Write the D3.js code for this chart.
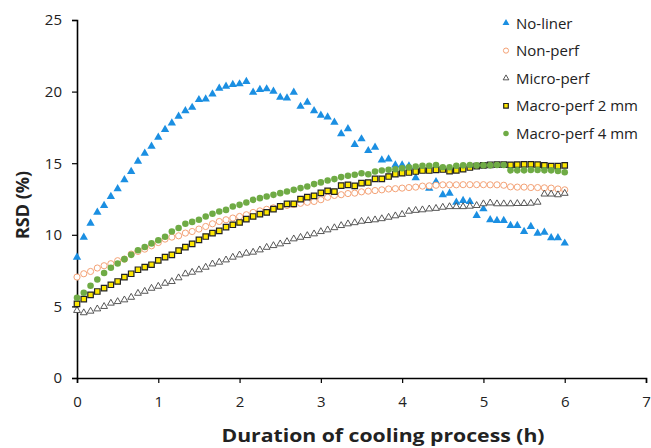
<!DOCTYPE html>
<html>
<head>
<meta charset="utf-8">
<script src="https://cdn.jsdelivr.net/npm/d3@7"></script>
<style>
  body { margin: 0; background: #fff; }
  svg text { font-family: "Open Sans", sans-serif; fill: #222; }
</style>
</head>
<body>
<div id="chart"></div>
<script>
// readings every 5 min (1/12 h) from 0 to 6 h
var hours = d3.range(0, 73).map(function(i) { return i / 12; });

var noLiner = [8.49, 9.88, 10.86, 11.63, 12.09, 12.72, 13.26, 13.89, 14.47, 15.19,
  15.74, 16.23, 16.86, 17.40, 17.86, 18.33, 18.72, 18.95, 19.49, 19.54,
  19.89, 20.28, 20.42, 20.54, 20.59, 20.75, 20.00, 20.19, 20.24, 20.07,
  19.65, 19.61, 20.00, 19.02, 19.30, 18.72, 18.40, 18.28, 17.91, 17.10,
  17.45, 16.35, 16.75, 15.93, 16.16, 15.28, 15.35, 14.93, 14.93, 14.85,
  14.03, 14.60, 13.30, 13.75, 12.85, 12.95, 12.32, 12.44, 12.37, 11.40,
  11.86, 11.10, 11.05, 11.05, 10.70, 10.70, 10.28, 10.63, 10.16, 10.23,
  9.84, 9.84, 9.47];

var nonPerf = [7.05, 7.28, 7.44, 7.68, 7.84, 7.98, 8.19, 8.30, 8.65, 8.84,
  9.00, 9.23, 9.46, 9.70, 9.84, 9.93, 10.12, 10.23, 10.40, 10.58,
  10.77, 10.93, 11.05, 11.17, 11.28, 11.40, 11.56, 11.67, 11.78, 11.88,
  11.98, 12.05, 12.12, 12.20, 12.27, 12.33, 12.45, 12.62, 12.75, 12.80,
  12.88, 12.91, 13.00, 13.05, 13.09, 13.14, 13.20, 13.22, 13.26, 13.30,
  13.33, 13.40, 13.42, 13.46, 13.49, 13.49, 13.49, 13.50, 13.50, 13.50,
  13.50, 13.49, 13.49, 13.46, 13.35, 13.33, 13.33, 13.30, 13.30, 13.28,
  13.26, 13.20, 13.14];

var microPerf = [4.77, 4.61, 4.72, 4.88, 5.05, 5.28, 5.39, 5.51, 5.69, 5.97,
  6.11, 6.32, 6.46, 6.67, 6.79, 7.05, 7.33, 7.44, 7.61, 7.79,
  8.02, 8.14, 8.30, 8.49, 8.65, 8.77, 8.84, 9.00, 9.18, 9.30,
  9.42, 9.58, 9.77, 9.88, 10.00, 10.12, 10.28, 10.40, 10.55, 10.70,
  10.82, 10.90, 11.00, 11.05, 11.10, 11.18, 11.28, 11.38, 11.48, 11.70,
  11.76, 11.80, 11.86, 11.90, 11.98, 12.02, 12.02, 12.02, 12.05, 12.10,
  12.22, 12.28, 12.22, 12.22, 12.22, 12.24, 12.24, 12.26, 12.33, 12.90,
  12.90, 12.85, 12.95];

var macro2 = [5.18, 5.51, 5.81, 6.04, 6.28, 6.51, 6.74, 7.05, 7.28, 7.56,
  7.74, 7.91, 8.21, 8.44, 8.60, 8.90, 9.14, 9.37, 9.65, 9.88,
  10.12, 10.28, 10.54, 10.70, 10.86, 11.10, 11.28, 11.44, 11.56, 11.79,
  11.98, 12.16, 12.16, 12.49, 12.63, 12.72, 12.93, 13.07, 13.02, 13.44,
  13.49, 13.42, 13.61, 13.65, 13.91, 13.91, 14.07, 14.23, 14.30, 14.35,
  14.42, 14.49, 14.49, 14.54, 14.56, 14.45, 14.50, 14.58, 14.70, 14.80,
  14.85, 14.88, 14.90, 14.90, 14.88, 14.90, 14.92, 14.92, 14.90, 14.85,
  14.80, 14.80, 14.85];

var macro4 = [5.60, 5.95, 6.44, 6.88, 7.33, 7.70, 8.00, 8.30, 8.60, 8.92,
  9.15, 9.40, 9.62, 9.86, 10.23, 10.47, 10.77, 10.90, 11.05, 11.28,
  11.47, 11.63, 11.74, 11.98, 12.09, 12.26, 12.44, 12.56, 12.67, 12.79,
  12.91, 13.02, 13.14, 13.26, 13.37, 13.54, 13.66, 13.79, 13.89, 14.03,
  14.12, 14.19, 14.30, 14.23, 14.42, 14.49, 14.54, 14.58, 14.65, 14.72,
  14.77, 14.82, 14.82, 14.88, 14.72, 14.72, 14.82, 14.85, 14.88, 14.85,
  14.85, 14.85, 14.88, 14.88, 14.50, 14.50, 14.50, 14.52, 14.52, 14.50,
  14.50, 14.45, 14.37];

var seriesNames = ["No-liner", "Non-perf", "Micro-perf", "Macro-perf 2 mm", "Macro-perf 4 mm"];
var xTicks = [0, 1, 2, 3, 4, 5, 6, 7];
var yTicks = [0, 5, 10, 15, 20, 25];

var width = 651, height = 448;
var margin = {left: 77, right: 5, top: 20, bottom: 70};

var svg = d3.select("#chart").append("svg")
    .attr("width", width)
    .attr("height", height);

var x = d3.scaleLinear().domain([0, 7]).range([margin.left, width - margin.right]);
var y = d3.scaleLinear().domain([0, 25]).range([height - margin.bottom, margin.top]);

// marker styles per series
var styles = [
  {symbol: d3.symbolTriangle, size: 30, fill: "#1b8fe2", stroke: "none", sw: 0},
  {symbol: d3.symbolCircle, size: 30, fill: "#fff", stroke: "#f4a276", sw: 1},
  {symbol: d3.symbolTriangle, size: 20, fill: "#fff", stroke: "#444", sw: 0.9},
  {symbol: d3.symbolSquare, size: 30, fill: "#ffe800", stroke: "#222", sw: 1.2},
  {symbol: d3.symbolCircle, size: 34, fill: "#6fab45", stroke: "none", sw: 0}
];
var allData = [noLiner, nonPerf, microPerf, macro2, macro4];

// axes
var yAxis = svg.append("g")
    .attr("transform", "translate(" + margin.left + ",0)")
    .call(d3.axisLeft(y).tickValues(yTicks).tickFormat(d3.format("d")).tickSize(5).tickPadding(10));
var xAxis = svg.append("g")
    .attr("transform", "translate(0," + y(0) + ")")
    .call(d3.axisBottom(x).tickValues(xTicks).tickFormat(d3.format("d")).tickSize(5).tickPadding(13));

[xAxis, yAxis].forEach(function(ax) {
  ax.select(".domain").attr("stroke", "#000").attr("stroke-width", 1.6);
  ax.selectAll(".tick line").attr("stroke", "#000").attr("stroke-width", 1.2);
  ax.selectAll(".tick text")
    .style("font-size", "15px")
    .style("font-family", "'Open Sans', sans-serif")
    .attr("fill", "#333");
});

// data points
allData.forEach(function(vals, s) {
  var st = styles[s];
  var sym = d3.symbol().type(st.symbol).size(st.size);
  svg.append("g")
    .selectAll("path")
    .data(vals)
    .join("path")
      .attr("d", sym)
      .attr("transform", function(d, i) {
        var dy = st.symbol === d3.symbolTriangle ? 0.8 : 0;
        return "translate(" + x(hours[i]) + "," + (y(d) + dy) + ")";
      })
      .attr("fill", st.fill)
      .attr("stroke", st.stroke)
      .attr("stroke-width", st.sw);
});

// axis titles
svg.append("text")
    .attr("transform", "translate(29," + 205 + ") rotate(-90)")
    .attr("text-anchor", "middle")
    .style("font-size", "18px")
    .style("font-weight", "bold")
    .attr("fill", "#111")
    .text("RSD (%)");

svg.append("text")
    .attr("x", 383)
    .attr("y", 442)
    .attr("text-anchor", "middle")
    .attr("textLength", 323)
    .attr("lengthAdjust", "spacingAndGlyphs")
    .style("font-size", "18px")
    .style("font-weight", "bold")
    .attr("fill", "#111")
    .text("Duration of cooling process (h)");

// legend
var legend = svg.append("g").attr("transform", "translate(506,23)");
seriesNames.forEach(function(name, s) {
  var st = styles[s];
  var row = legend.append("g").attr("transform", "translate(0," + (s * 27.6) + ")");
  row.append("path")
    .attr("d", d3.symbol().type(st.symbol).size(st.size * 0.7))
    .attr("fill", st.fill)
    .attr("stroke", st.stroke)
    .attr("stroke-width", st.sw);
  row.append("text")
    .attr("x", 10)
    .attr("y", 5.5)
    .style("font-size", "15px")
    .attr("fill", "#111")
    .text(name);
});
</script>
</body>
</html>
